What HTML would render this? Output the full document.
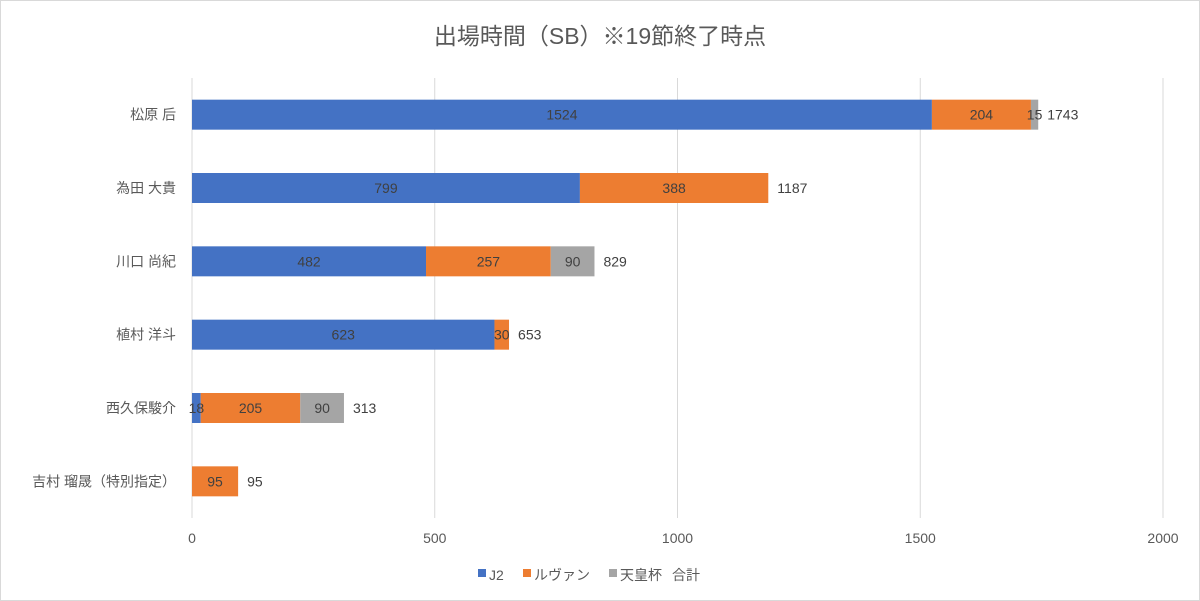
<!DOCTYPE html>
<html><head><meta charset="utf-8">
<style>
body{margin:0;background:#fff;}
svg{display:block;font-family:"Liberation Sans","Noto Sans CJK JP",sans-serif;}
</style></head>
<body>
<svg id="chart" width="1200" height="601" viewBox="0 0 1200 601">
<rect x="0.5" y="0.5" width="1199" height="600" fill="#fff" stroke="#d9d9d9"/>
<text x="600" y="44" text-anchor="middle" font-size="23" fill="#595959">出場時間（SB）※19節終了時点</text>
<g id="grid"></g><g id="bars"></g><g id="labels"></g>
<g id="legend">
<rect x="478" y="569" width="8" height="8" fill="#4472c4"/>
<text x="489" y="580" font-size="14" fill="#595959">J2</text>
<rect x="523" y="569" width="8" height="8" fill="#ed7d31"/>
<text x="534" y="580" font-size="14" fill="#595959">ルヴァン</text>
<rect x="609" y="569" width="8" height="8" fill="#a5a5a5"/>
<text x="620" y="580" font-size="14" fill="#595959">天皇杯</text>
<text x="672" y="580" font-size="14" fill="#595959">合計</text>
</g>
</svg>
<script>
const categories=["松原 后","為田 大貴","川口 尚紀","植村 洋斗","西久保駿介","吉村 瑠晟（特別指定）"];
const j2=[1524,799,482,623,18,0];
const levain=[204,388,257,30,205,95];
const emperor=[15,0,90,0,90,0];
const xTicks=[0,500,1000,1500,2000];
const seriesNames=["j2","levain","emperor-cup"];
const colors=["#4472c4","#ed7d31","#a5a5a5"];
const NS="http://www.w3.org/2000/svg";
const x0=192,x1=1163,xMax=2000,yTop=78,yBot=518;
function xs(v){return x0+(v/xMax)*(x1-x0);}
const band=(yBot-yTop)/categories.length;
function yc(i){return yTop+band*(i+0.5);}
function mk(tag,attrs,parent){const e=document.createElementNS(NS,tag);for(const k in attrs)e.setAttribute(k,attrs[k]);parent.appendChild(e);return e;}
const grid=document.getElementById('grid'),bars=document.getElementById('bars'),labels=document.getElementById('labels');
xTicks.forEach(t=>{
 const l=mk('line',{x1:xs(t),x2:xs(t),y1:yTop,y2:yBot,stroke:'#d9d9d9','stroke-width':1},grid);
 
 
 const tx=mk('text',{x:xs(t),y:543,'text-anchor':'middle','font-size':14,fill:'#595959'},grid);
 tx.textContent=t;
 
 
});
const series=[j2,levain,emperor];
categories.forEach((c,i)=>{
 const cy=yc(i);
 const cl=mk('text',{x:176,y:cy+5,'text-anchor':'end','font-size':14,fill:'#595959'},labels);
 cl.textContent=c;
 
 
 let acc=0;
 series.forEach((s,k)=>{
  const v=s[i];
  if(v>0){
   const r=mk('rect',{x:xs(acc),y:cy-15,width:xs(acc+v)-xs(acc),height:30,fill:colors[k]},bars);
   
   
   const t=mk('text',{x:(xs(acc)+xs(acc+v))/2,y:cy+5,'text-anchor':'middle','font-size':14,fill:'#404040'},labels);
   t.textContent=v;
   
   
  }
  acc+=v;
 });
 const tt=mk('text',{x:xs(acc)+9,y:cy+5,'font-size':14,fill:'#404040'},labels);
 tt.textContent=acc;
 
 
});
</script>
</body></html>
